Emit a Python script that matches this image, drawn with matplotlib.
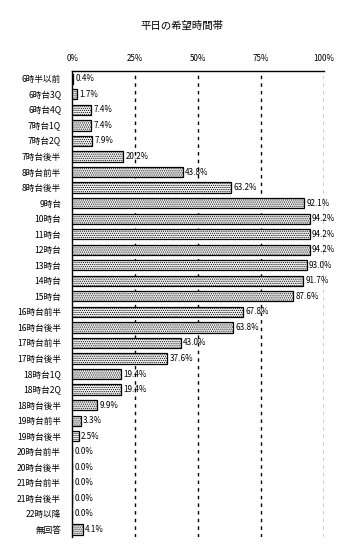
import matplotlib
matplotlib.use("Agg")
import matplotlib.pyplot as plt

plt.rcParams['font.family'] = ['Noto Sans CJK JP', 'DejaVu Sans']
plt.rcParams['hatch.linewidth'] = 0.5

labels = ["6時半以前", "6時台3Q", "6時台4Q", "7時台1Q", "7時台2Q", "7時台後半",
          "8時台前半", "8時台後半", "9時台", "10時台", "11時台", "12時台",
          "13時台", "14時台", "15時台", "16時台前半", "16時台後半", "17時台前半",
          "17時台後半", "18時台1Q", "18時台2Q", "18時台後半", "19時台前半",
          "19時台後半", "20時台前半", "20時台後半", "21時台前半", "21時台後半",
          "22時以降", "無回答"]
values = [0.4, 1.7, 7.4, 7.4, 7.9, 20.2, 43.8, 63.2, 92.1, 94.2, 94.2, 94.2,
          93.0, 91.7, 87.6, 67.8, 63.8, 43.0, 37.6, 19.4, 19.4, 9.9, 3.3,
          2.5, 0.0, 0.0, 0.0, 0.0, 0.0, 4.1]
xticks = [0, 25, 50, 75, 100]

fig = plt.figure(figsize=(3.63, 5.55), dpi=100)
ax = fig.add_axes([0.199, 0.032, 0.694, 0.840])

ypos = list(range(len(labels)))
ax.barh(ypos, values, height=0.66, color="#eeeeee", edgecolor="black",
        linewidth=0.9, hatch="........", zorder=3)

for y, v in zip(ypos, values):
    ax.text(v + 1.0, y, f"{v:.1f}%", va="center", ha="left", fontsize=5.8, zorder=4)

for t in xticks[1:]:
    ax.axvline(t, color="black", linestyle=(0, (2.5, 3)), linewidth=1.0, zorder=1)

ax.set_xlim(0, 100)
ax.set_ylim(len(labels) - 0.5, -0.5)
ax.set_yticks(ypos)
ax.set_yticklabels(labels, fontsize=6.2)
ax.set_xticks(xticks)
ax.set_xticklabels([f"{t}%" for t in xticks], fontsize=5.8)
ax.xaxis.tick_top()
ax.tick_params(axis="x", length=0, pad=6)
ax.tick_params(axis="y", length=0, pad=8)

ax.spines["right"].set_visible(False)
ax.spines["bottom"].set_visible(False)
ax.spines["top"].set_linewidth(1)
ax.spines["left"].set_linewidth(1)

fig.text(0.5, 1 - 26 / 555, "平日の希望時間帯", ha="center", va="center", fontsize=7.5)

fig.savefig("out.png", dpi=100)
